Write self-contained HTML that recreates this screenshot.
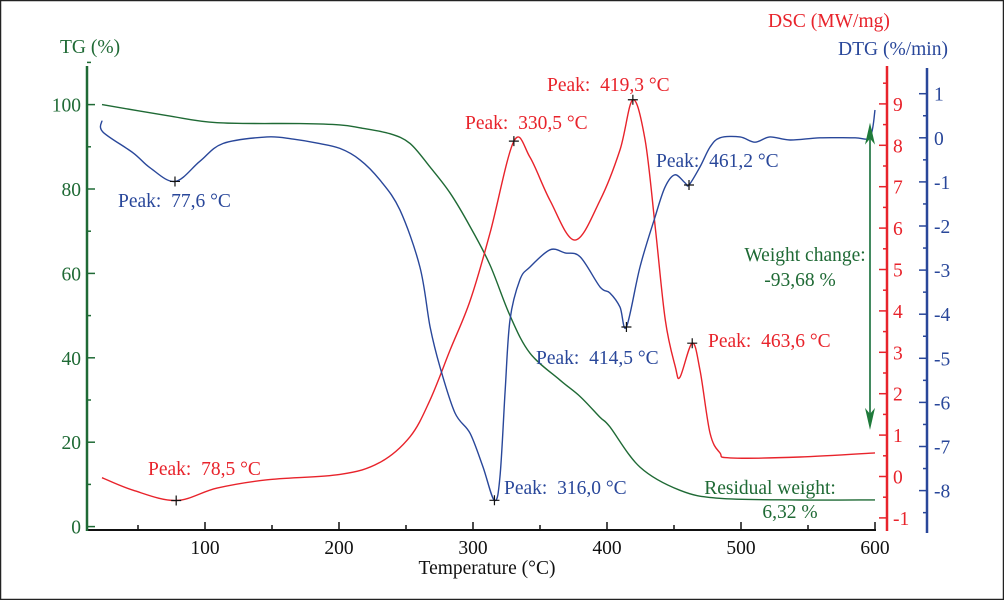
<!DOCTYPE html>
<html><head><meta charset="utf-8"><style>
html,body{margin:0;padding:0;background:#fff}
svg{display:block}
text{font-family:"Liberation Serif",serif;font-size:19.5px;white-space:pre}
</style></head><body>
<svg id="chart" width="1004" height="600" viewBox="0 0 1004 600" xmlns="http://www.w3.org/2000/svg">
<rect x="0.5" y="0.5" width="1003" height="599" fill="#fff" stroke="#222" stroke-width="1.5"/>
<g id="axes"></g>
<g id="series"></g>
<g id="labels"></g>
</svg>
<script>
const tgTemps = [23.1,71.6,109,171,200.7,215.7,238,253,268,283,298,312.7,327.6,342.5,365,380,394.8,402,424.6,454.5,484,544,600];
const tgValues = [100,97.4,95.7,95.5,95.2,94.5,93.1,90.8,85.2,79.0,71.0,62.0,50.0,41.1,34.7,30.8,25.9,23.7,14.1,8.6,6.7,6.3,6.32];
const dscTemps = [23.1,46.3,78.4,109,146.3,200.7,230,253,268,283,298,312.7,330.5,342.5,357.5,376,394.8,409.7,419.3,428.4,436,443.5,451,454.5,463.6,469.4,476.9,484.3,491.8,544,600];
const dscValues = [-0.03,-0.33,-0.58,-0.28,-0.08,0.05,0.33,0.96,1.85,3.06,4.26,5.88,8.1,7.71,6.67,5.71,6.67,7.89,9.1,8.13,6.03,3.78,2.65,2.4,3.22,2.57,1.05,0.57,0.45,0.47,0.57];
const dtgTemps = [23.1,23.9,46.3,59,77.6,96.3,113.4,146.3,165.7,183.6,200.7,215.7,230.6,245.5,260.4,268,275.4,286.6,297.8,307.5,316,320.1,323.9,327.6,335,342.5,357.5,368.7,380,394.8,402.2,409.7,414.5,424.6,435.8,443.3,450.7,458.2,461.2,469.4,476.9,484.3,499.3,510.4,521.6,536.6,559,585,596.3,600];
const dtgValues = [0.39,0.13,-0.34,-0.68,-0.99,-0.53,-0.13,0.02,-0.03,-0.12,-0.24,-0.5,-0.96,-1.64,-2.93,-4.29,-5.2,-6.24,-6.7,-7.47,-8.22,-7.7,-5.79,-4.13,-3.22,-2.93,-2.54,-2.61,-2.7,-3.38,-3.52,-3.84,-4.29,-2.93,-1.8,-1.12,-0.84,-1.02,-1.07,-0.66,-0.21,0,0.02,-0.1,0.02,-0.05,0,0,0.02,0.63];
const xTicks = [100,200,300,400,500,600];
const tgTicks = [0,20,40,60,80,100];
const dscTicks = [-1,0,1,2,3,4,5,6,7,8,9];
const dtgTicks = [1,0,-1,-2,-3,-4,-5,-6,-7,-8];
const peakLabels = [
 {s:'dtg',t:77.6,txt:'Peak:  77,6 °C',x:118,y:207},
 {s:'dsc',t:78.5,txt:'Peak:  78,5 °C',x:148,y:475},
 {s:'dsc',t:330.5,txt:'Peak:  330,5 °C',x:465,y:129},
 {s:'dsc',t:419.3,txt:'Peak:  419,3 °C',x:547,y:91},
 {s:'dtg',t:461.2,txt:'Peak:  461,2 °C',x:656,y:167},
 {s:'dtg',t:414.5,txt:'Peak:  414,5 °C',x:536,y:364},
 {s:'dsc',t:463.6,txt:'Peak:  463,6 °C',x:708,y:347},
 {s:'dtg',t:316.0,txt:'Peak:  316,0 °C',x:504,y:494}
];
const GREEN='#1f6a35', RED='#e8232b', BLUE='#29479a';
const X = t => 205 + (t-100)*1.34;
const yTG = v => 526.6 - v*4.22;
const yDSC = v => 476.5 - v*41.4;
const yDTG = v => 137.8 - v*44.1;
const NS='http://www.w3.org/2000/svg';
function mk(tag, attrs, parent, text){const e=document.createElementNS(NS,tag);for(const k in attrs)e.setAttribute(k,attrs[k]);if(text!==undefined)e.textContent=text;parent.appendChild(e);return e;}
function interp(ts,vs,t){for(let i=0;i<ts.length-1;i++){if(t>=ts[i]&&t<=ts[i+1]){const f=(t-ts[i])/(ts[i+1]-ts[i]);return vs[i]+f*(vs[i+1]-vs[i]);}}return vs[vs.length-1];}
function pathOf(ts,vs,fy){const p=ts.map((t,i)=>[X(t),fy(vs[i])]);let d='M'+p[0][0].toFixed(1)+','+p[0][1].toFixed(1);
 for(let i=0;i<p.length-1;i++){const p0=p[Math.max(0,i-1)],p1=p[i],p2=p[i+1],p3=p[Math.min(p.length-1,i+2)];
 const c1=[p1[0]+(p2[0]-p0[0])/6,p1[1]+(p2[1]-p0[1])/6],c2=[p2[0]-(p3[0]-p1[0])/6,p2[1]-(p3[1]-p1[1])/6];
 d+=' C'+c1[0].toFixed(1)+','+c1[1].toFixed(1)+' '+c2[0].toFixed(1)+','+c2[1].toFixed(1)+' '+p2[0].toFixed(1)+','+p2[1].toFixed(1);}return d;}
const axes=document.getElementById('axes'), series=document.getElementById('series'), labels=document.getElementById('labels');
let xa=mk('line',{x1:87,y1:530,x2:876,y2:530,stroke:'#111','stroke-width':2},axes);


for(let t=50;t<=600;t+=50){const major=t%100===0;mk('line',{x1:X(t),y1:530,x2:X(t),y2:major?522:525,stroke:'#111','stroke-width':1.5},axes);}
xTicks.forEach(t=>{const e=mk('text',{x:X(t),y:554,'text-anchor':'middle',fill:'#111'},axes,String(t));

});
let xt=mk('text',{x:487,y:574,'text-anchor':'middle',fill:'#111'},axes,'Temperature (°C)');


let ta=mk('line',{x1:87,y1:66,x2:87,y2:531,stroke:GREEN,'stroke-width':2.5},axes);


for(let v=0;v<=110;v+=10){const major=v%20===0;mk('line',{x1:87,y1:yTG(v),x2:major?95:91,y2:yTG(v),stroke:GREEN,'stroke-width':1.5},axes);}
tgTicks.forEach(v=>{const e=mk('text',{x:81,y:yTG(v)+7,'text-anchor':'end',fill:GREEN},axes,String(v));

});
let tt=mk('text',{x:60,y:53,fill:GREEN},axes,'TG (%)');


let da=mk('line',{x1:887,y1:66,x2:887,y2:531,stroke:RED,'stroke-width':2.5},axes);


for(let v=-1;v<=9.6;v+=0.5){const major=Math.abs(v-Math.round(v))<0.01;mk('line',{x1:887,y1:yDSC(v),x2:major?879:883,y2:yDSC(v),stroke:RED,'stroke-width':1.5},axes);}
dscTicks.forEach(v=>{const e=mk('text',{x:893,y:yDSC(v)+7,fill:RED},axes,String(v));

});
let dt=mk('text',{x:768,y:27,fill:RED},axes,'DSC (MW/mg)');


let ga=mk('line',{x1:927,y1:68,x2:927,y2:533,stroke:BLUE,'stroke-width':2.5},axes);


for(let v=-8.5;v<=1.4;v+=0.5){const major=Math.abs(v-Math.round(v))<0.01;mk('line',{x1:927,y1:yDTG(v),x2:major?919:923,y2:yDTG(v),stroke:BLUE,'stroke-width':1.5},axes);}
dtgTicks.forEach(v=>{const e=mk('text',{x:934,y:yDTG(v)+7,fill:BLUE},axes,String(v));

});
let gt=mk('text',{x:838,y:55,fill:BLUE},axes,'DTG (%/min)');


let s1=mk('path',{d:pathOf(tgTemps,tgValues,yTG),fill:'none',stroke:GREEN,'stroke-width':1.4},series);


let s2=mk('path',{d:pathOf(dscTemps,dscValues,yDSC),fill:'none',stroke:RED,'stroke-width':1.4},series);


let s3=mk('path',{d:pathOf(dtgTemps,dtgValues,yDTG),fill:'none',stroke:BLUE,'stroke-width':1.4},series);


peakLabels.forEach(p=>{const col=p.s==='dsc'?RED:BLUE;const v=p.s==='dsc'?interp(dscTemps,dscValues,p.t):interp(dtgTemps,dtgValues,p.t);
 const px=X(p.t),py=p.s==='dsc'?yDSC(v):yDTG(v);
 const m=mk('path',{d:`M${px-5},${py}H${px+5}M${px},${py-5}V${py+5}`,stroke:'#111','stroke-width':1.2},labels);
 
 
 const e=mk('text',{x:p.x,y:p.y,fill:col},labels,p.txt);
 
 });
const ax=870, yTop=yTG(100)+18, yBot=yTG(6.32)-70;
let ar=mk('g',{},labels);


mk('line',{x1:ax,y1:yTop+6,x2:ax,y2:yBot-6,stroke:'#2e7d4f','stroke-width':1.8},ar);
mk('path',{d:`M${ax},${yTop} L${ax-5},${yTop+22} L${ax},${yTop+16} L${ax+5},${yTop+22}Z`,fill:'#1f7a3a'},ar);
mk('path',{d:`M${ax},${yBot} L${ax-5},${yBot-22} L${ax},${yBot-16} L${ax+5},${yBot-22}Z`,fill:'#1f7a3a'},ar);
[['Weight change:',805,261,'weight-change-label'],['-93,68 %',800,286,'weight-change-value'],['Residual weight:',770,494,'residual-weight-label'],['6,32 %',790,518,'residual-weight-value']].forEach(a=>{
 const e=mk('text',{x:a[1],y:a[2],'text-anchor':'middle',fill:GREEN},labels,a[0]);
 
 });
</script>
</body></html>
